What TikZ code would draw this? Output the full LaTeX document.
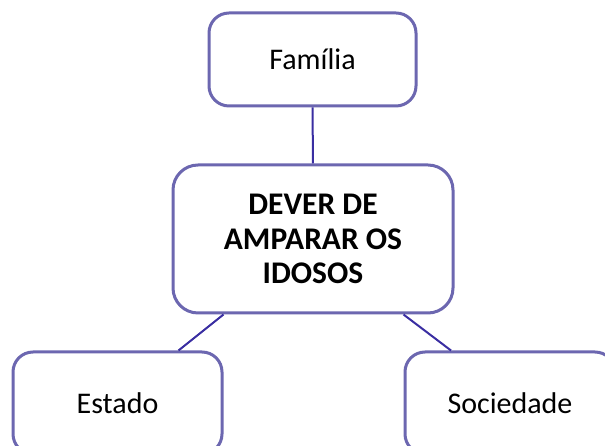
\documentclass[tikz,border=0pt]{standalone}
\usepackage{fontspec}
\setmainfont{Carlito}
\definecolor{boxline}{RGB}{108,103,176}
\definecolor{connline}{RGB}{58,46,162}
\begin{document}
\begin{tikzpicture}[x=1pt,y=1pt,
  box/.style={draw=boxline, line width=3pt, rounded corners=20pt, fill=white,
    inner sep=0pt, font=\fontsize{30}{36}\selectfont},
  conn/.style={draw=connline, line width=2pt}]
\useasboundingbox (0,0) rectangle (605,446);
\clip (0,0) rectangle (605,446);
\node[box, minimum width=207pt, minimum height=93pt] (fam) at (312.5,386.5) {Família};
\node[box, minimum width=280pt, minimum height=148pt, rounded corners=25pt,
  align=center, font=\fontsize{31.5}{34.5}\selectfont\bfseries] (dever) at (313,207) {DEVER DE\\AMPARAR OS\\IDOSOS};
\node[box, minimum width=209pt, minimum height=102pt] (est) at (117.5,43) {Estado};
\node[box, minimum width=210pt, minimum height=102pt] (soc) at (510,43) {Sociedade};
\draw[conn] (fam.south) -- (dever.north);
\draw[conn] ([xshift=52pt]dever.south west) -- ([xshift=61pt]est.north);
\draw[conn] ([xshift=-51pt]dever.south east) -- ([xshift=-59pt]soc.north);
\end{tikzpicture}
\end{document}
